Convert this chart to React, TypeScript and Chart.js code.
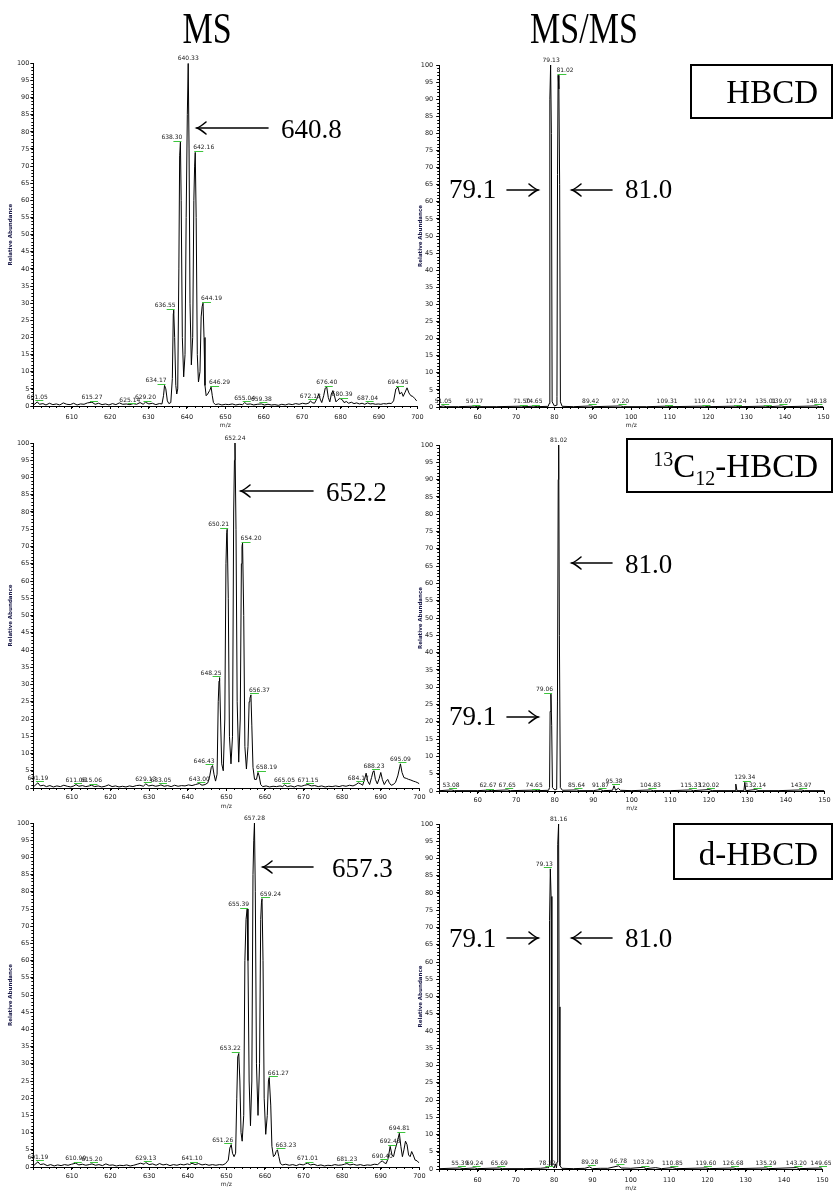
import React, { useEffect, useRef } from 'react';
import { Chart, registerables } from 'chart.js';

Chart.register(...registerables);

// ---------- DATA (m/z, relative abundance) ----------
const ms1Data: number[][] = [
  [600.2,0.4],[601.05,1.2],[601.6,0.5],[602.5,0.7],[603.3,0.3],[604.2,0.8],[605.1,0.4],[606.0,0.6],[606.9,0.3],[607.8,0.9],
  [608.7,0.5],[609.6,0.4],[610.5,0.8],[611.4,0.3],[612.3,0.6],[613.2,0.5],[614.1,0.9],[615.27,1.1],[616.1,0.5],[617.0,0.8],
  [617.9,0.4],[618.8,0.6],[619.7,0.3],[620.6,0.7],[621.5,0.4],[622.4,0.9],[623.3,0.5],[624.2,0.6],[625.14,0.4],[626.0,0.7],
  [626.9,0.5],[627.8,1.0],[628.6,0.5],[629.2,1.1],[630.1,0.6],[631.0,0.8],[631.9,0.4],[632.8,0.7],[633.5,0.6],[633.9,3.0],
  [634.17,6.0],[634.5,5.0],[634.9,1.5],[635.3,0.7],[635.8,1.0],[636.2,8.0],[636.45,27],[636.55,28],[636.8,20],[637.1,6.0],
  [637.35,3.5],[637.6,5.0],[637.9,40],[638.1,73],[638.3,77],[638.5,60],[638.8,20],[639.15,8.5],[639.5,15],[639.8,55],
  [640.1,85],[640.33,100],[640.55,75],[640.8,30],[641.15,12],[641.5,20],[641.8,60],[642.0,70],[642.16,74],[642.4,55],
  [642.7,15],[643.0,7.0],[643.4,10],[643.7,26],[643.95,29],[644.19,30],[644.45,20],[644.7,6.0],[645.0,3.0],[645.4,3.5],
  [645.9,4.5],[646.29,5.5],[646.6,3.0],[646.9,1.0],[647.4,0.4],[648.2,0.6],[649.1,0.3],[650.0,0.5],[650.9,0.4],[651.8,0.6],
  [652.7,0.3],[653.6,0.5],[654.5,0.4],[655.04,1.0],[655.6,0.5],[656.5,0.6],[657.4,0.3],[658.3,0.5],[659.38,0.6],[660.2,0.3],
  [661.1,0.5],[662.0,0.3],[662.9,0.4],[663.8,0.2],[664.7,0.5],[665.6,0.3],[666.5,0.6],[667.4,0.4],[668.3,0.7],[669.2,0.5],
  [670.1,0.8],[671.0,0.6],[671.8,0.9],[672.13,1.5],[672.6,1.0],[673.2,0.8],[673.8,2.0],[674.3,3.5],[674.7,2.0],[675.1,1.0],
  [675.6,3.0],[676.0,5.2],[676.4,5.5],[676.8,2.5],[677.2,1.2],[677.6,3.5],[678.0,4.5],[678.4,3.0],[678.8,1.2],[679.3,1.8],
  [679.8,2.2],[680.39,1.9],[680.9,1.0],[681.5,1.3],[682.1,0.8],[682.8,1.1],[683.5,0.7],[684.2,0.9],[684.9,0.6],[685.6,0.8],
  [686.3,0.5],[687.04,0.9],[687.7,0.6],[688.4,0.7],[689.1,0.5],[689.8,0.6],[690.5,0.5],[691.2,0.7],[691.9,0.6],[692.6,0.8],
  [693.2,0.7],[693.8,1.5],[694.4,5.0],[694.95,5.5],[695.4,3.5],[695.9,4.0],[696.3,2.8],[696.8,4.0],[697.3,5.3],[697.8,3.8],
  [698.3,3.0],[698.8,2.8],[699.3,2.2],[699.8,1.5]
];
const ms1Labels: number[][] = [
  [601.05,1.2],[615.27,1.1],[625.14,0.4],[629.20,1.1],[634.17,6],[636.55,28],[638.30,77],[640.33,100],[642.16,74],
  [644.19,30],[646.29,5.5],[655.04,1.0],[659.38,0.6],[672.13,1.5],[676.40,5.5],[680.39,1.9],[687.04,0.9],[694.95,5.5]
];

const ms2Data: number[][] = [
  [600.2,0.5],[601.19,1.5],[601.8,0.6],[602.6,0.8],[603.4,0.4],[604.3,0.7],[605.2,0.3],[606.1,0.6],[607.0,0.4],[607.9,0.8],
  [608.8,0.5],[609.7,0.3],[610.5,0.6],[611.06,1.0],[611.8,0.5],[612.7,0.7],[613.6,0.4],[614.5,0.6],[615.06,0.8],[615.9,0.4],
  [616.8,0.6],[617.7,0.3],[618.6,0.5],[619.5,0.9],[620.4,0.4],[621.3,0.6],[622.2,0.3],[623.1,0.5],[624.0,0.3],[624.9,0.6],
  [625.8,0.4],[626.7,0.7],[627.6,0.8],[628.5,0.5],[629.13,1.2],[629.9,0.6],[630.8,0.8],[631.7,0.5],[632.6,0.7],[633.05,0.9],
  [633.9,0.5],[634.8,0.7],[635.7,0.4],[636.6,0.8],[637.5,0.5],[638.4,0.7],[639.3,0.6],[640.2,0.9],[641.1,0.7],[642.0,1.0],
  [643.0,1.3],[643.7,0.8],[644.5,1.0],[645.2,1.5],[645.7,3.5],[646.1,6.0],[646.43,6.5],[646.8,4.0],[647.2,2.0],[647.6,4.0],
  [647.9,25],[648.1,31],[648.25,32],[648.5,20],[648.8,7.0],[649.2,5.0],[649.6,20],[649.9,65],[650.1,74],[650.21,75],
  [650.5,55],[650.8,15],[651.2,7.0],[651.6,15],[651.9,80],[652.1,95],[652.24,100],[652.5,75],[652.8,25],[653.2,7.5],
  [653.6,20],[653.9,65],[654.05,70],[654.2,71],[654.5,50],[654.8,12],[655.2,5.5],[655.6,12],[655.9,25],[656.1,26],
  [656.37,27],[656.6,18],[656.9,6.0],[657.3,2.5],[657.8,2.5],[658.19,4.5],[658.5,3.5],[658.9,1.0],[659.4,0.4],[660.3,0.6],
  [661.2,0.3],[662.1,0.5],[663.0,0.4],[663.9,0.6],[664.6,0.4],[665.05,0.9],[665.8,0.4],[666.7,0.6],[667.6,0.3],[668.5,0.7],
  [669.4,0.5],[670.3,0.8],[671.15,1.0],[672.0,0.6],[672.9,0.7],[673.8,0.4],[674.7,0.6],[675.6,0.3],[676.5,0.5],[677.4,0.4],
  [678.3,0.6],[679.2,0.4],[680.1,0.7],[681.0,0.5],[681.9,0.8],[682.8,0.6],[683.6,1.0],[684.17,1.5],[684.8,1.2],[685.3,0.8],
  [685.8,2.5],[686.2,4.3],[686.6,2.0],[687.1,1.0],[687.6,3.0],[688.0,4.8],[688.23,5.0],[688.6,2.5],[689.1,1.2],[689.6,2.8],
  [690.0,4.5],[690.4,2.5],[690.9,1.0],[691.4,2.0],[691.8,2.5],[692.2,1.5],[692.7,0.8],[693.2,1.0],[693.8,1.6],[694.4,3.5],
  [695.09,7.0],[695.5,4.5],[696.0,3.0],[696.6,2.8],[697.2,2.5],[697.8,2.3],[698.4,2.0],[699.0,1.8],[699.6,1.5],[700.0,1.2]
];
const ms2Labels: number[][] = [
  [601.19,1.5],[611.06,1.0],[615.06,0.8],[629.13,1.2],[633.05,0.9],[643.00,1.3],[646.43,6.5],[648.25,32],[650.21,75],
  [652.24,100],[654.20,71],[656.37,27],[658.19,4.5],[665.05,0.9],[671.15,1.0],[684.17,1.5],[688.23,5.0],[695.09,7.0]
];

const ms3Data: number[][] = [
  [600.2,0.5],[601.19,1.5],[601.8,0.7],[602.7,0.9],[603.6,0.4],[604.5,0.7],[605.4,0.3],[606.3,0.6],[607.2,0.4],[608.1,0.7],
  [609.0,0.5],[609.9,0.8],[610.99,1.1],[611.8,0.6],[612.7,0.8],[613.6,0.5],[614.5,0.7],[615.2,0.9],[616.1,0.5],[617.0,0.7],
  [617.9,0.4],[618.8,0.9],[619.7,0.5],[620.6,0.6],[621.5,0.3],[622.4,0.5],[623.3,0.4],[624.2,0.6],[625.1,0.3],[626.0,0.5],
  [626.9,0.8],[627.8,1.1],[628.7,0.8],[629.13,1.3],[630.0,0.7],[630.9,0.9],[631.8,0.5],[632.7,1.0],[633.6,0.6],[634.5,0.8],
  [635.4,0.4],[636.3,0.7],[637.2,0.5],[638.1,0.8],[639.0,0.6],[639.9,0.9],[640.5,0.7],[641.1,1.1],[641.9,0.7],[642.8,1.0],
  [643.7,0.6],[644.6,0.8],[645.5,0.5],[646.4,0.7],[647.3,0.5],[648.2,0.7],[649.1,0.6],[649.8,1.0],[650.5,2.0],[650.9,5.5],
  [651.26,6.5],[651.6,4.0],[652.0,3.0],[652.4,4.0],[652.7,20],[652.95,32],[653.22,33],[653.5,25],[653.8,10],[654.1,7.5],
  [654.5,15],[654.8,60],[655.1,72],[655.39,75],[655.6,60],[655.9,25],[656.25,12],[656.6,25],[656.9,85],[657.1,95],
  [657.28,100],[657.5,80],[657.8,30],[658.2,15],[658.6,30],[658.9,72],[659.1,77],[659.24,78],[659.5,60],[659.8,20],
  [660.2,9.5],[660.6,15],[660.9,25],[661.1,26],[661.27,26],[661.5,18],[661.8,6.0],[662.2,3.0],[662.6,3.5],[662.9,4.5],
  [663.23,5.0],[663.6,3.0],[664.0,1.0],[664.5,0.6],[665.4,0.8],[666.3,0.5],[667.2,0.7],[668.1,0.4],[669.0,0.8],[669.9,0.6],
  [670.5,0.9],[671.01,1.1],[671.8,0.6],[672.7,0.8],[673.6,0.4],[674.5,0.6],[675.4,0.3],[676.3,0.5],[677.2,0.4],[678.1,0.7],
  [679.0,0.5],[679.9,0.6],[680.6,0.8],[681.23,1.0],[682.0,0.6],[682.9,0.8],[683.8,0.5],[684.7,0.7],[685.6,0.4],[686.5,0.6],
  [687.4,0.5],[688.3,0.8],[689.2,0.7],[690.0,1.5],[690.4,1.8],[690.9,1.2],[691.4,1.0],[691.9,2.5],[692.43,6.0],[692.9,3.5],
  [693.3,3.0],[693.7,5.0],[694.2,7.0],[694.81,9.8],[695.2,6.0],[695.6,3.0],[696.0,5.0],[696.4,7.5],[696.8,6.5],[697.2,3.5],
  [697.6,3.0],[698.0,4.5],[698.4,3.5],[698.9,2.0],[699.4,1.8],[699.9,1.2]
];
const ms3Labels: number[][] = [
  [601.19,1.5],[610.99,1.1],[615.20,0.9],[629.13,1.3],[641.10,1.1],[651.26,6.5],[653.22,33],[655.39,75],[657.28,100],
  [659.24,78],[661.27,26],[663.23,5.0],[671.01,1.1],[681.23,1.0],[690.40,1.8],[692.43,6.0],[694.81,9.8]
];

const msms1Data: number[][] = [
  [50.2,0.1],[51.05,0.3],[51.8,0.1],[55.0,0.1],[59.17,0.25],[60.0,0.1],[65.0,0.1],[71.5,0.25],[72.3,0.1],[74.65,0.25],
  [75.5,0.1],[78.4,0.2],[78.6,1.0],[78.8,90],[79.0,100],[79.2,80],[79.4,1.5],[80.0,0.3],[80.5,0.5],[80.65,3.0],
  [80.8,68],[80.95,97],[81.15,93],[81.35,65],[81.55,1.5],[82.0,0.2],[85.0,0.1],[89.42,0.3],[90.2,0.1],[97.2,0.3],
  [98.0,0.1],[104.0,0.1],[109.31,0.25],[110.0,0.1],[119.04,0.25],[120.0,0.1],[127.24,0.25],[128.0,0.1],[135.01,0.25],
  [136.0,0.1],[139.07,0.3],[140.0,0.1],[148.18,0.3],[149.0,0.1],[150.0,0.1]
];
const msms1Labels: number[][] = [
  [51.05,0.3],[59.17,0.25],[71.50,0.25],[74.65,0.25],[79.13,100],[81.02,97],[89.42,0.3],[97.20,0.3],[109.31,0.25],
  [119.04,0.25],[127.24,0.25],[135.01,0.25],[139.07,0.3],[148.18,0.3]
];

const msms2Data: number[][] = [
  [50.2,0.1],[53.08,0.3],[54.0,0.1],[60.0,0.1],[62.67,0.25],[63.5,0.1],[67.65,0.3],[68.5,0.1],[74.65,0.25],[75.5,0.1],
  [78.4,0.2],[78.65,1.0],[78.8,23],[79.0,28],[79.2,19],[79.4,1.0],[80.0,0.3],[80.5,0.5],[80.7,26],[80.9,90],
  [81.02,100],[81.2,45],[81.45,1.0],[82.0,0.2],[85.64,0.3],[86.5,0.1],[90.0,0.1],[91.87,0.4],[92.6,0.1],[95.0,0.2],
  [95.38,1.5],[95.8,0.2],[96.5,0.8],[97.0,0.2],[100.0,0.1],[104.83,0.3],[105.6,0.1],[110.0,0.1],[115.33,0.3],[116.0,0.1],
  [120.02,0.4],[121.0,0.1],[126.8,0.1],[127.0,2.0],[127.3,0.1],[129.1,0.1],[129.34,2.5],[129.6,0.1],[132.14,0.4],[133.0,0.1],
  [138.0,0.1],[143.97,0.3],[144.8,0.1],[150.0,0.1]
];
const msms2Labels: number[][] = [
  [53.08,0.3],[62.67,0.25],[67.65,0.3],[74.65,0.25],[79.06,28],[81.02,100],[85.64,0.3],[91.87,0.4],[95.38,1.5],
  [104.83,0.3],[115.33,0.3],[120.02,0.4],[129.34,2.5],[132.14,0.4],[143.97,0.3]
];

const msms3Data: number[][] = [
  [50.2,0.1],[55.39,0.3],[56.2,0.1],[59.24,0.3],[60.0,0.1],[65.69,0.3],[66.5,0.1],[72.0,0.1],[76.5,0.2],[78.22,0.4],
  [78.5,0.3],[78.7,1.0],[78.8,72],[79.0,87],[79.2,79],[79.4,1.0],[80.0,0.3],[80.3,1.5],[80.6,0.3],[80.75,2.0],
  [80.85,44],[81.0,94],[81.16,100],[81.3,47],[81.5,1.0],[82.0,0.2],[85.0,0.1],[88.0,0.2],[89.28,0.6],[90.0,0.1],
  [92.0,0.2],[94.0,0.2],[96.78,0.9],[97.5,0.3],[100.0,0.2],[103.29,0.5],[104.0,0.1],[106.5,0.4],[108.0,0.1],[110.85,0.4],
  [112.0,0.1],[119.6,0.3],[120.5,0.1],[126.68,0.3],[127.5,0.1],[135.29,0.3],[136.0,0.1],[143.2,0.4],[144.0,0.1],
  [149.65,0.3],[150.0,0.1]
];
const msms3Labels: number[][] = [
  [55.39,0.3],[59.24,0.3],[65.69,0.3],[78.22,0.4],[79.13,87],[81.16,100],[89.28,0.6],[96.78,0.9],[103.29,0.5],
  [110.85,0.4],[119.60,0.3],[126.68,0.3],[135.29,0.3],[143.20,0.4],[149.65,0.3]
];

const msRange = [600, 700];
const msmsRange = [50, 150];
const yRange = [0, 100];
const xTickStep = 10;
const yTickStep = 5;

// ---------- LAYOUT ----------
const SANS = "'DejaVu Sans', sans-serif";
const SERIF = "'Liberation Serif', 'Times New Roman', serif";

const LEFT = { left: 0, width: 428, areaL: 33.3, areaR: 420.3, range: msRange, titleX: 11, yTickPad: 1 };
const RIGHT = { left: 408, width: 425, areaL: 439.2, areaR: 827, range: msmsRange, titleX: 421, yTickPad: 3 };
const ROW1 = { top: 46, height: 386 };
const ROW2 = { top: 432, height: 380 };
const ROW3 = { top: 812, height: 381 };

const PANELS = [
  { ...LEFT, ...ROW1, areaT: 63.3, areaB: 406, tickY: 417, mzY: 425, data: ms1Data, labels: ms1Labels },
  { ...RIGHT, ...ROW1, areaT: 65, areaB: 407, tickY: 417, mzY: 425, data: msms1Data, labels: msms1Labels },
  { ...LEFT, ...ROW2, areaT: 443, areaB: 788, tickY: 797, mzY: 806, data: ms2Data, labels: ms2Labels },
  { ...RIGHT, ...ROW2, areaT: 445, areaB: 791, tickY: 800, mzY: 808, data: msms2Data, labels: msms2Labels },
  { ...LEFT, ...ROW3, areaT: 823, areaB: 1167, tickY: 1176, mzY: 1184, data: ms3Data, labels: ms3Labels },
  { ...RIGHT, ...ROW3, areaT: 824, areaB: 1169, tickY: 1180, mzY: 1188, data: msms3Data, labels: msms3Labels },
];

function makeMinorTicks() {
  return {
    id: 'minorTicks',
    afterDraw(chart: any) {
      const { ctx } = chart;
      const xs = chart.scales.x;
      const ys = chart.scales.y;
      ctx.save();
      ctx.strokeStyle = '#000';
      ctx.lineWidth = 1;
      ctx.beginPath();
      for (let v = ys.min; v <= ys.max; v += 1) {
        const py = Math.round(ys.getPixelForValue(v)) + 0.5;
        ctx.moveTo(ys.right - 2, py);
        ctx.lineTo(ys.right, py);
      }
      for (let v = xs.min; v <= xs.max; v += 2) {
        const px = Math.round(xs.getPixelForValue(v)) + 0.5;
        ctx.moveTo(px, xs.top);
        ctx.lineTo(px, xs.top + 2);
      }
      ctx.stroke();
      ctx.restore();
    },
  };
}

function makePeakLabels(items: number[][]) {
  return {
    id: 'peakLabels',
    afterDatasetsDraw(chart: any) {
      const { ctx } = chart;
      const xs = chart.scales.x;
      const ys = chart.scales.y;
      let baseMz = items[0][0];
      let baseInt = -1;
      for (const [mz, inten] of items) {
        if (inten > baseInt) { baseInt = inten; baseMz = mz; }
      }
      ctx.save();
      ctx.font = `6px ${SANS}`;
      ctx.textBaseline = 'alphabetic';
      for (const [mz, inten] of items) {
        const px = xs.getPixelForValue(mz);
        const py = ys.getPixelForValue(inten);
        const ly = Math.round(py - 1.5) + 0.5;
        let tx = px;
        let g1 = px - 2;
        let g2 = px + 6;
        ctx.textAlign = 'center';
        if (inten !== baseInt && inten >= 3 && Math.abs(mz - baseMz) < 8) {
          if (mz < baseMz) {
            ctx.textAlign = 'right';
            tx = px + 2;
            g1 = px - 7;
            g2 = px + 1;
          } else {
            ctx.textAlign = 'left';
            tx = px - 2;
            g1 = px - 1;
            g2 = px + 8;
          }
        }
        ctx.fillStyle = '#222';
        ctx.fillText(mz.toFixed(2), tx, py - 3);
        if (inten !== baseInt) {
          ctx.strokeStyle = '#3cc43c';
          ctx.lineWidth = 1;
          ctx.beginPath();
          ctx.moveTo(g1, ly);
          ctx.lineTo(g2, ly);
          ctx.stroke();
        }
      }
      ctx.restore();
    },
  };
}

function Panel({ cfg }: { cfg: any }) {
  const ref = useRef<HTMLCanvasElement | null>(null);
  useEffect(() => {
    const c = cfg;
    const xMin = c.range[0];
    const xMax = c.range[1];
    const bottom = c.top + c.height;
    const chart = new Chart(ref.current as HTMLCanvasElement, {
      type: 'line',
      data: {
        datasets: [
          {
            data: c.data.map(([x, y]: number[]) => ({ x, y })),
            borderColor: '#000',
            borderWidth: 1,
            pointRadius: 0,
            tension: 0,
            fill: false,
          } as any,
        ],
      },
      options: {
        animation: false,
        responsive: false,
        devicePixelRatio: 1,
        events: [],
        layout: {
          padding: { top: c.areaT - c.top, right: c.left + c.width - c.areaR, left: 0, bottom: 0 },
        },
        plugins: { legend: { display: false }, tooltip: { enabled: false } },
        scales: {
          x: {
            type: 'linear',
            position: 'bottom',
            min: xMin,
            max: xMax,
            afterFit: (s: any) => { s.height = bottom - c.areaB; },
            ticks: {
              stepSize: xTickStep,
              autoSkip: false,
              maxRotation: 0,
              padding: Math.max(0, c.tickY - c.areaB - 3 - 3.6),
              font: { family: SANS, size: 6.5 },
              color: '#222',
              callback: (v: any) => (v === xMin ? '' : String(v)),
            },
            grid: { drawOnChartArea: false, drawTicks: true, tickLength: 3, color: '#000' },
            border: { display: true, color: '#000', width: 1 },
            title: {
              display: true,
              text: 'm/z',
              font: { family: SANS, size: 6 },
              color: '#222',
              padding: { top: 0, bottom: Math.max(0, bottom - c.mzY - 3.6) },
            },
          },
          y: {
            type: 'linear',
            position: 'left',
            min: yRange[0],
            max: yRange[1],
            afterFit: (s: any) => { s.width = c.areaL - c.left; },
            ticks: {
              stepSize: yTickStep,
              autoSkip: false,
              padding: c.yTickPad,
              font: { family: SANS, size: 6.5 },
              color: '#222',
            },
            grid: { drawOnChartArea: false, drawTicks: true, tickLength: 3, color: '#000' },
            border: { display: true, color: '#000', width: 1 },
            title: {
              display: true,
              text: 'Relative Abundance',
              font: { family: SANS, size: 5.5, weight: 'bold' },
              color: '#1a1a48',
              padding: { top: Math.max(0, c.titleX - c.left - 3.3), bottom: 0 },
            },
          },
        },
      } as any,
      plugins: [makeMinorTicks(), makePeakLabels(c.labels)],
    });
    return () => chart.destroy();
  }, [cfg]);
  return (
    <canvas
      ref={ref}
      width={cfg.width}
      height={cfg.height}
      style={{ position: 'absolute', left: cfg.left, top: cfg.top, width: cfg.width, height: cfg.height, display: 'block' }}
    />
  );
}

function Arrow({ x1, x2, y, tip }: { x1: number; x2: number; y: number; tip: 'left' | 'right' }) {
  const tx = tip === 'left' ? x1 : x2;
  const d = tip === 'left' ? 1 : -1;
  return (
    <g stroke="#000" strokeWidth={1.6} fill="none" strokeLinecap="round">
      <line x1={x1} y1={y} x2={x2} y2={y} />
      <path d={`M ${tx + d * 9} ${y - 6} Q ${tx + d * 3} ${y - 1} ${tx} ${y} Q ${tx + d * 3} ${y + 1} ${tx + d * 9} ${y + 6}`} />
    </g>
  );
}

function Overlay() {
  const num = { fontFamily: SERIF, fontSize: 27, fill: '#000' };
  const big = { fontFamily: SERIF, fontSize: 33, fill: '#000' };
  return (
    <svg
      width={833}
      height={1193}
      style={{ position: 'absolute', left: 0, top: 0, pointerEvents: 'none' }}
    >
      <text transform="translate(207 43) scale(0.92 1.18)" textAnchor="middle" fontFamily={SERIF} fontSize={37}>MS</text>
      <text transform="translate(584 43) scale(0.92 1.18)" textAnchor="middle" fontFamily={SERIF} fontSize={37}>MS/MS</text>

      {/* MS annotations */}
      <Arrow x1={197} x2={268} y={128} tip="left" />
      <text x={281} y={138} {...num}>640.8</text>
      <Arrow x1={241} x2={313} y={491} tip="left" />
      <text x={326} y={501} {...num}>652.2</text>
      <Arrow x1={263} x2={313} y={867} tip="left" />
      <text x={332} y={877} {...num}>657.3</text>

      {/* MS/MS annotations */}
      <text x={449} y={198} {...num}>79.1</text>
      <Arrow x1={507} x2={538} y={190} tip="right" />
      <Arrow x1={572} x2={612} y={190} tip="left" />
      <text x={625} y={198} {...num}>81.0</text>

      <Arrow x1={572} x2={612} y={563} tip="left" />
      <text x={625} y={573} {...num}>81.0</text>
      <text x={449} y={725} {...num}>79.1</text>
      <Arrow x1={507} x2={538} y={717} tip="right" />

      <text x={449} y={947} {...num}>79.1</text>
      <Arrow x1={507} x2={538} y={938} tip="right" />
      <Arrow x1={572} x2={612} y={938} tip="left" />
      <text x={625} y={947} {...num}>81.0</text>

      {/* compound boxes */}
      <rect x={691} y={65} width={141} height={53} fill="none" stroke="#000" strokeWidth={2} />
      <text x={818} y={103} textAnchor="end" {...big}>HBCD</text>

      <rect x={627} y={439} width={205} height={53} fill="none" stroke="#000" strokeWidth={2} />
      <text x={818} y={477} textAnchor="end" {...big}>
        <tspan fontSize={20} dy={-11}>13</tspan>
        <tspan fontSize={33} dy={11}>C</tspan>
        <tspan fontSize={20} dy={8}>12</tspan>
        <tspan fontSize={33} dy={-8}>-HBCD</tspan>
      </text>

      <rect x={674} y={824} width={158} height={55} fill="none" stroke="#000" strokeWidth={2} />
      <text x={818} y={865} textAnchor="end" {...big}>d-HBCD</text>
    </svg>
  );
}

export default function App() {
  return (
    <div style={{ position: 'absolute', left: 0, top: 0, width: 833, height: 1193, background: '#fff', overflow: 'hidden' }}>
      {PANELS.map((p, i) => (
        <Panel key={i} cfg={p} />
      ))}
      <Overlay />
    </div>
  );
}
